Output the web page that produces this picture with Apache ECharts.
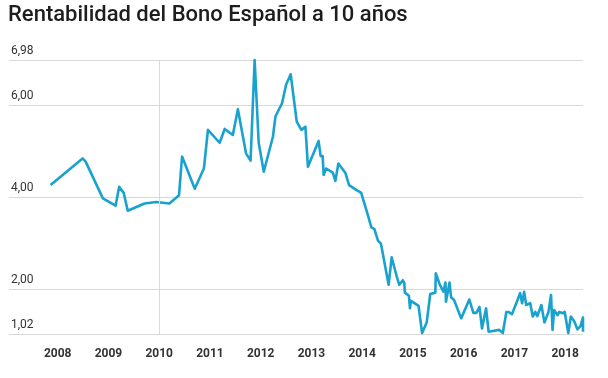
<!DOCTYPE html>
<html>
<head>
<meta charset="utf-8">
<script src="https://cdn.jsdelivr.net/npm/echarts@6/dist/echarts.min.js"></script>
<style>
html,body{margin:0;padding:0;background:#fff;}
#chart{width:608px;height:378px;}
</style>
</head>
<body>
<div id="chart"></div>
<script>
const titleText = 'Rentabilidad del Bono Español a 10 años';
const yearTicks = [2008, 2009, 2010, 2011, 2012, 2013, 2014, 2015, 2016, 2017, 2018];
const yTicks = [1.02, 2, 4, 6, 6.98];
const markedYear = 2010;
const dates = [
  2007.86, 2008.49, 2008.55, 2008.89, 2009.14, 2009.21, 2009.30, 2009.38, 2009.71, 2009.94,
  2010.20, 2010.39, 2010.45, 2010.70, 2010.88, 2010.96, 2011.19, 2011.29, 2011.45, 2011.55,
  2011.71, 2011.80, 2011.88, 2011.96, 2012.06, 2012.24, 2012.29, 2012.42, 2012.50, 2012.59,
  2012.71, 2012.80, 2012.88, 2012.93, 2013.14, 2013.18, 2013.22, 2013.24, 2013.29, 2013.42,
  2013.47, 2013.53, 2013.67, 2013.74, 2013.89, 2013.98, 2014.11, 2014.18, 2014.24, 2014.31,
  2014.37, 2014.52, 2014.58, 2014.68, 2014.73, 2014.80, 2014.83, 2014.84, 2014.92, 2014.94,
  2014.96, 2015.11, 2015.18, 2015.27, 2015.34, 2015.44, 2015.45, 2015.53, 2015.60, 2015.64,
  2015.65, 2015.72, 2015.75, 2015.81, 2015.95, 2016.11, 2016.19, 2016.25, 2016.31, 2016.36,
  2016.44, 2016.49, 2016.70, 2016.77, 2016.84, 2016.88, 2016.95, 2017.06, 2017.11, 2017.15,
  2017.19, 2017.23, 2017.31, 2017.36, 2017.41, 2017.45, 2017.53, 2017.59, 2017.67, 2017.72,
  2017.75, 2017.78, 2017.85, 2017.88, 2017.95, 2017.99, 2018.06, 2018.11, 2018.18, 2018.24,
  2018.30, 2018.35, 2018.35
];
const yields = [
  4.26, 4.84, 4.77, 3.97, 3.81, 4.22, 4.09, 3.70, 3.86, 3.89,
  3.86, 4.04, 4.88, 4.18, 4.62, 5.46, 5.18, 5.48, 5.35, 5.91,
  4.95, 4.79, 6.98, 5.18, 4.55, 5.31, 5.75, 6.04, 6.44, 6.67,
  5.64, 5.46, 5.53, 4.66, 5.22, 4.89, 4.89, 4.48, 4.62, 4.53,
  4.35, 4.73, 4.52, 4.26, 4.15, 4.09, 3.61, 3.34, 3.30, 3.05,
  2.98, 2.09, 2.69, 2.27, 2.09, 2.19, 2.12, 1.92, 1.85, 1.58,
  1.74, 1.63, 1.04, 1.27, 1.89, 1.92, 2.34, 2.09, 1.94, 2.14,
  1.72, 2.14, 1.82, 1.76, 1.36, 1.77, 1.48, 1.48, 1.61, 1.14,
  1.58, 1.07, 1.11, 1.04, 1.50, 1.50, 1.45, 1.76, 1.91, 1.69,
  1.94, 1.65, 1.69, 1.40, 1.50, 1.41, 1.65, 1.27, 1.50, 1.87,
  1.11, 1.54, 1.43, 1.50, 1.47, 1.50, 1.04, 1.40, 1.29, 1.12,
  1.19, 1.38, 1.07
];

const chart = echarts.init(document.getElementById('chart'), null, {renderer: 'canvas'});
const fmt = v => Number(v).toFixed(2).replace('.', ',');
chart.setOption({
  animation: false,
  backgroundColor: '#ffffff',
  title: {
    text: titleText,
    left: 8,
    top: 4,
    padding: 0,
    textStyle: {fontFamily: 'Roboto', fontSize: 22, fontWeight: 500, color: '#1d1d1d'}
  },
  grid: {left: 9, right: 25, top: 60, bottom: 44, containLabel: false},
  xAxis: {
    type: 'value',
    min: 2007.04,
    max: 2018.35,
    axisLine: {show: false},
    axisTick: {show: false, customValues: yearTicks},
    splitLine: {show: false},
    axisLabel: {
      customValues: yearTicks,
      margin: 14,
      fontFamily: 'Roboto',
      fontSize: 12,
      fontWeight: 'bold',
      color: '#333333',
      formatter: v => String(Math.round(v))
    }
  },
  yAxis: {
    type: 'value',
    min: 1.02,
    max: 6.98,
    axisLine: {show: false},
    axisTick: {show: false, customValues: yTicks},
    splitLine: {show: true, lineStyle: {color: '#d9d9d9', width: 1}},
    axisLabel: {
      customValues: yTicks,
      inside: true,
      margin: 2,
      verticalAlign: 'bottom',
      padding: [0, 0, 3, 0],
      fontFamily: 'Roboto',
      fontSize: 12,
      color: '#333333',
      formatter: fmt
    }
  },
  series: [{
    type: 'line',
    data: dates.map((d, i) => [d, yields[i]]),
    showSymbol: false,
    clip: false,
    lineStyle: {color: '#1aa2cf', width: 2.6, join: 'round'},
    markLine: {
      silent: true,
      symbol: 'none',
      label: {show: false},
      lineStyle: {color: '#d9d9d9', width: 1, type: 'solid'},
      data: [{xAxis: markedYear}]
    },
    z: 3
  }]
});
</script>
</body>
</html>
